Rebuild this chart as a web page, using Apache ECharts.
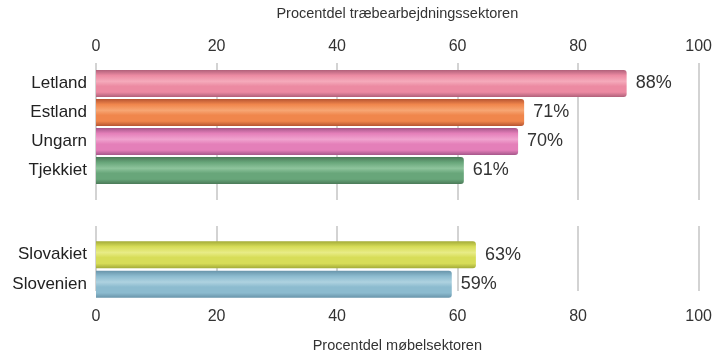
<!DOCTYPE html>
<html>
<head>
<meta charset="utf-8">
<script src="https://cdn.jsdelivr.net/npm/echarts@6/dist/echarts.min.js"></script>
<style>
  html, body { margin: 0; padding: 0; background: #fff; }
  #chart { width: 715px; height: 354px; }
</style>
</head>
<body>
<div id="chart"></div>
<script>
// data
const woodCountries = ['Letland', 'Estland', 'Ungarn', 'Tjekkiet'];
const woodValues = [88, 71, 70, 61];
const furnCountries = ['Slovakiet', 'Slovenien'];
const furnValues = [63, 59];
const topAxisName = 'Procentdel træbearbejdningssektoren';
const bottomAxisName = 'Procentdel møbelsektoren';

// [dark edge, main, highlight]
const woodColors = [
  ['#b0607a', '#ec8aa2', '#f5aabb'],
  ['#b65532', '#f0864c', '#f7a673'],
  ['#a5578a', '#e47fb9', '#f0a3cf'],
  ['#4b7a58', '#68a67a', '#8ec49c']
];
const furnColors = [
  ['#a3ab38', '#d7dd58', '#e8ec86'],
  ['#6894aa', '#8cbbcf', '#aed2e0']
];

const FONT = 'Liberation Sans';

function barStyle(c) {
  return {
    color: new echarts.graphic.LinearGradient(0, 0, 0, 1, [
      { offset: 0, color: c[0] },
      { offset: 0.2, color: c[1] },
      { offset: 0.42, color: c[2] },
      { offset: 0.6, color: c[1] },
      { offset: 0.82, color: c[1] },
      { offset: 1, color: c[0] }
    ]),
    borderRadius: [0, 3, 3, 0]
  };
}

function mkData(vals, cols) {
  return vals.map((v, i) => ({ value: v, itemStyle: barStyle(cols[i]) }));
}

const chart = echarts.init(document.getElementById('chart'));

const gridLine = { show: true, lineStyle: { color: '#c4c4c4', width: 1.5 } };
const tickLabel = { color: '#333', fontSize: 16, fontFamily: FONT };
const catLabel = { color: '#222', fontSize: 17, fontFamily: FONT, margin: 9 };
const valLabel = { show: true, position: 'right', distance: 9, formatter: '{c}%', color: '#333', fontSize: 18, fontFamily: FONT };

chart.setOption({
  animation: false,
  textStyle: { fontFamily: FONT },
  grid: [
    { left: 96, right: 16, top: 63, height: 137 },   // background lines, top
    { left: 96, right: 16, top: 226, height: 77 },   // background lines, bottom
    { left: 96, right: 16, top: 69, height: 116 },   // bars, top
    { left: 96, right: 16, top: 240, height: 59 }    // bars, bottom
  ],
  xAxis: [
    {
      gridIndex: 0, type: 'value', min: 0, max: 100, interval: 20, position: 'top',
      name: topAxisName, nameLocation: 'middle', nameGap: 42,
      nameTextStyle: { color: '#333', fontSize: 14.5, fontFamily: FONT },
      axisLine: { show: false }, axisTick: { show: false },
      axisLabel: Object.assign({ margin: 8 }, tickLabel),
      splitLine: gridLine
    },
    {
      gridIndex: 1, type: 'value', min: 0, max: 100, interval: 20, position: 'bottom',
      name: bottomAxisName, nameLocation: 'middle', nameGap: 47,
      nameTextStyle: { color: '#333', fontSize: 14.5, fontFamily: FONT },
      axisLine: { show: false }, axisTick: { show: false },
      axisLabel: Object.assign({ margin: 18 }, tickLabel),
      splitLine: gridLine
    },
    { gridIndex: 2, type: 'value', min: 0, max: 100, show: false },
    { gridIndex: 3, type: 'value', min: 0, max: 100, show: false }
  ],
  yAxis: [
    { gridIndex: 0, type: 'category', data: [''], show: false },
    { gridIndex: 1, type: 'category', data: [''], show: false },
    {
      gridIndex: 2, type: 'category', data: woodCountries, inverse: true,
      axisLine: { show: false }, axisTick: { show: false }, axisLabel: catLabel
    },
    {
      gridIndex: 3, type: 'category', data: furnCountries, inverse: true,
      axisLine: { show: false }, axisTick: { show: false }, axisLabel: catLabel
    }
  ],
  series: [
    {
      type: 'bar', xAxisIndex: 2, yAxisIndex: 2, barWidth: 27,
      data: mkData(woodValues, woodColors), label: valLabel
    },
    {
      type: 'bar', xAxisIndex: 3, yAxisIndex: 3, barWidth: 27,
      data: mkData(furnValues, furnColors), label: valLabel
    }
  ]
});
</script>
</body>
</html>
